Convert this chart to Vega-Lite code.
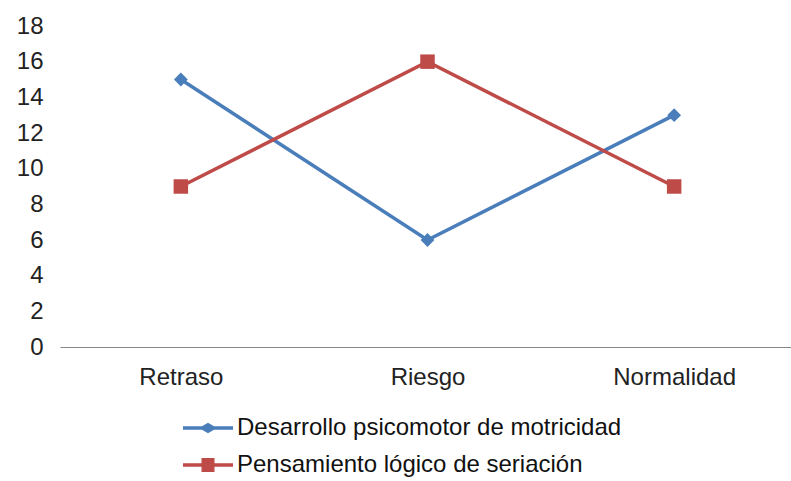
{
  "$schema": "https://vega.github.io/schema/vega-lite/v6.json",
  "width": 735,
  "height": 321,
  "padding": {"left": 16, "top": 14, "right": 0, "bottom": 5},
  "autosize": {"type": "pad"},
  "background": "white",
  "config": {
    "font": "Liberation Sans",
    "view": {"stroke": null}
  },
  "data": {"values": [
    {"cat": "Retraso", "serie": "Desarrollo psicomotor de motricidad", "v": 15},
    {"cat": "Riesgo", "serie": "Desarrollo psicomotor de motricidad", "v": 6},
    {"cat": "Normalidad", "serie": "Desarrollo psicomotor de motricidad", "v": 13},
    {"cat": "Retraso", "serie": "Pensamiento lógico de seriación", "v": 9},
    {"cat": "Riesgo", "serie": "Pensamiento lógico de seriación", "v": 16},
    {"cat": "Normalidad", "serie": "Pensamiento lógico de seriación", "v": 9}
  ]},
  "encoding": {
    "x": {"field": "cat", "type": "nominal", "sort": ["Retraso", "Riesgo", "Normalidad"],
      "scale": {"type": "point", "padding": 0.49},
      "axis": {"labelAngle": 0, "labelPadding": 18, "domainColor": "#888", "domainWidth": 1, "ticks": false, "grid": false, "title": null,
        "labelFont": "Liberation Sans", "labelFontSize": 24, "labelColor": "#222"}},
    "y": {"field": "v", "type": "quantitative",
      "scale": {"domain": [0, 18], "nice": false},
      "axis": {"values": [0,2,4,6,8,10,12,14,16,18], "domain": false, "labelPadding": 17, "ticks": false, "grid": false, "title": null,
        "labelFont": "Liberation Sans", "labelFontSize": 24, "labelColor": "#222"}}
  },
  "layer": [
    {"mark": {"type": "line", "strokeWidth": 3.5},
     "encoding": {"color": {"field": "serie", "type": "nominal",
      "scale": {"domain": ["Desarrollo psicomotor de motricidad", "Pensamiento lógico de seriación"], "range": ["#4A7EBB", "#BE4B48"]},
      "legend": {"title": null, "orient": "none", "legendX": 123, "legendY": 377, "direction": "vertical",
        "symbolType": "M-1,-0.07 L-0.24,-0.07 L0,-0.21 L0.24,-0.07 L1,-0.07 L1,0.07 L0.24,0.07 L0,0.21 L-0.24,0.07 L-1,0.07 Z",
        "symbolSize": 2500, "symbolStrokeWidth": 0, "labelLimit": 0,
        "labelFontSize": 24, "labelFont": "Liberation Sans", "labelColor": "#111", "labelOffset": 4, "rowPadding": -9,
        "encode": {"symbols": {"update": {
          "fill": {"scale": "color", "field": "value"}, "fillOpacity": {"value": 1}, "strokeWidth": {"value": 0},
          "shape": {"signal": "datum.value === 'Desarrollo psicomotor de motricidad' ? 'M-1,-0.07 L-0.24,-0.07 L0,-0.21 L0.24,-0.07 L1,-0.07 L1,0.07 L0.24,0.07 L0,0.21 L-0.24,0.07 L-1,0.07 Z' : 'M-1,-0.07 L-0.26,-0.07 L-0.26,-0.28 L0.26,-0.28 L0.26,-0.07 L1,-0.07 L1,0.07 L0.26,0.07 L0.26,0.28 L-0.26,0.28 L-0.26,0.07 L-1,0.07 Z'"}}}}}}}},
    {"transform": [{"filter": "datum.serie === 'Desarrollo psicomotor de motricidad'"}],
     "mark": {"type": "point", "shape": "diamond", "filled": true, "opacity": 1, "size": 190, "color": "#4A7EBB"}},
    {"transform": [{"filter": "datum.serie === 'Pensamiento lógico de seriación'"}],
     "mark": {"type": "point", "shape": "square", "filled": true, "opacity": 1, "size": 210, "color": "#BE4B48"}}
  ]
}
